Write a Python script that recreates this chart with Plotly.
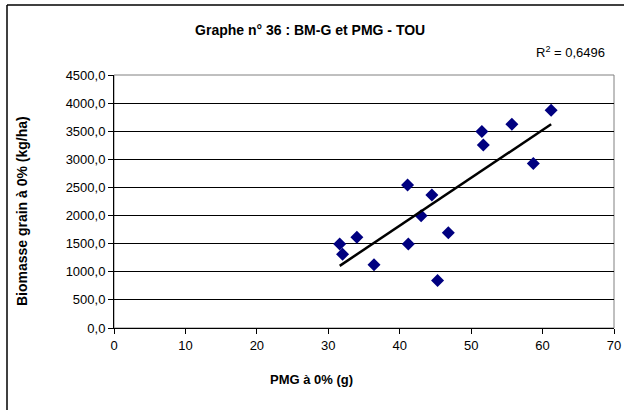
import plotly.graph_objects as go
import numpy as np

# PMG à 0% (g) / Biomasse grain à 0% (kg/ha)
pmg = [31.6, 32.0, 34.0, 36.4, 41.1, 41.2, 43.0, 44.5, 45.3, 46.8, 51.5, 51.7, 55.7, 58.7, 61.2]
biomasse = [1495, 1310, 1615, 1125, 2545, 1495, 1995, 2365, 845, 1695, 3495, 3255, 3625, 2925, 3875]

y_ticks = [0, 500, 1000, 1500, 2000, 2500, 3000, 3500, 4000, 4500]
y_labels = ["0,0", "500,0", "1000,0", "1500,0", "2000,0", "2500,0", "3000,0", "3500,0", "4000,0", "4500,0"]
x_ticks = [0, 10, 20, 30, 40, 50, 60, 70]

# droite de tendance linéaire (comme Excel)
a, b = np.polyfit(pmg, biomasse, 1)
x_line = [min(pmg), max(pmg)]
y_line = [a * v + b for v in x_line]

font = "Arial, Liberation Sans, sans-serif"

fig = go.Figure()

fig.add_trace(go.Scatter(
    x=pmg, y=biomasse,
    mode='markers',
    marker=dict(symbol='diamond', color='#000080', size=10),
    showlegend=False
))

fig.add_trace(go.Scatter(
    x=x_line, y=y_line,
    mode='lines',
    line=dict(color='black', width=2.5),
    showlegend=False
))

fig.update_xaxes(
    range=[0, 70], tickvals=x_ticks, automargin=False,
    showgrid=False, zeroline=False,
    showline=True, linecolor='black', linewidth=1,
    ticks='outside', ticklen=5, tickcolor='black',
    tickfont=dict(family=font, size=13, color='black'),
)
fig.update_yaxes(
    range=[0, 4500], tickvals=y_ticks, ticktext=y_labels, automargin=False,
    showgrid=True, gridcolor='black', gridwidth=1, zeroline=False,
    showline=True, linecolor='black', linewidth=1,
    ticks='outside', ticklen=5, tickcolor='black',
    tickfont=dict(family=font, size=13, color='black'),
)

fig.update_layout(
    width=624, height=410,
    margin=dict(l=114, r=10, t=75, b=82),
    plot_bgcolor='white', paper_bgcolor='white',
    title=dict(text="<b>Graphe n° 36 : BM-G et PMG - TOU</b>",
               x=0.497, xanchor='center', y=1 - 30 / 410, yanchor='middle',
               font=dict(family=font, size=14, color='black')),
    annotations=[
        dict(text="R<sup>2</sup> = 0,6496", xref='paper', yref='paper',
             x=0.986, y=1.091, xanchor='right', yanchor='middle', showarrow=False,
             font=dict(family=font, size=13, color='black')),
        dict(text="<b>PMG à 0% (g)</b>", xref='paper', yref='paper',
             x=0.394, y=-0.205, xanchor='center', yanchor='middle', showarrow=False,
             font=dict(family=font, size=13, color='black')),
        dict(text="<b>Biomasse grain à 0% (kg/ha)</b>", xref='paper', yref='paper',
             x=-0.184, y=0.462, xanchor='center', yanchor='middle', showarrow=False,
             textangle=-90, font=dict(family=font, size=14, color='black')),
    ],
    shapes=[
        # cadre de la zone de tracé
        dict(type='rect', xref='paper', yref='paper', x0=0, x1=1, y0=0, y1=1,
             line=dict(color='#808080', width=1), layer='below'),
        # bordure du graphique (bords gauche et haut visibles)
        dict(type='line', xref='paper', yref='paper', x0=-0.214, x1=-0.214, y0=-0.4, y1=1.277,
             line=dict(color='black', width=1.5)),
        dict(type='line', xref='paper', yref='paper', x0=-0.214, x1=1.1, y0=1.277, y1=1.277,
             line=dict(color='black', width=1.5)),
    ]
)

fig.write_html("out.html", config={'displayModeBar': False},
               post_script="document.body.style.margin='0';")
